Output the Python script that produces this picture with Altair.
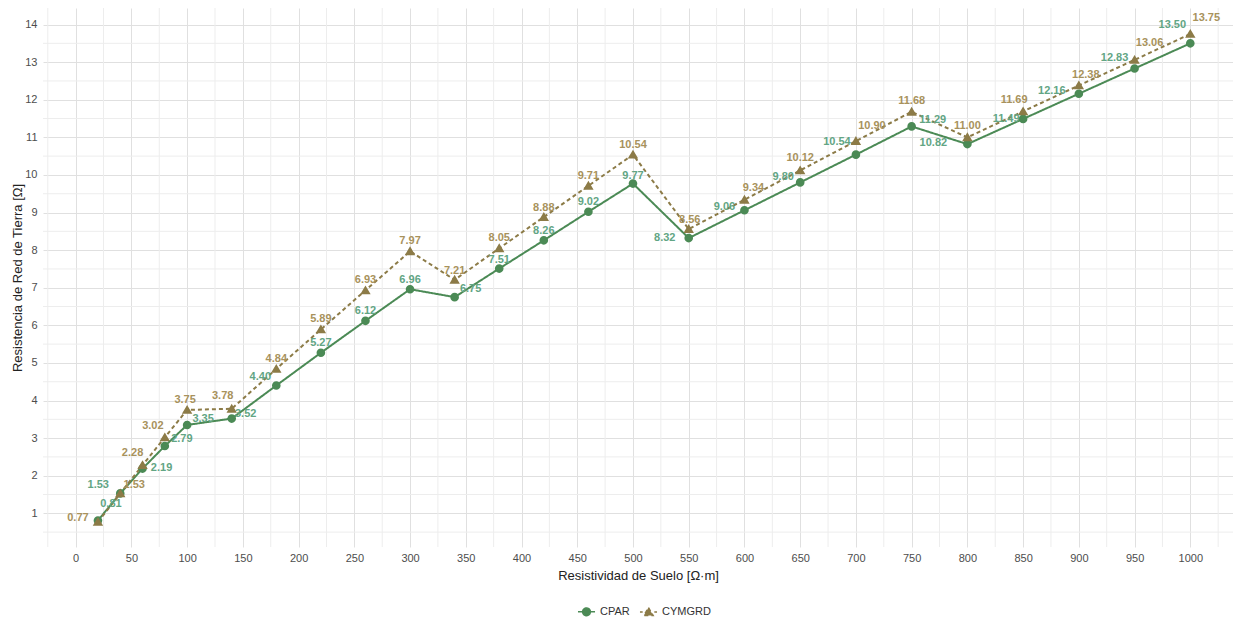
import altair as alt
import pandas as pd

# Data
resistividad = [20, 40, 60, 80, 100, 140, 180, 220, 260, 300, 340, 380, 420, 460,
                500, 550, 600, 650, 700, 750, 800, 850, 900, 950, 1000]
cpar = [0.81, 1.53, 2.19, 2.79, 3.35, 3.52, 4.40, 5.27, 6.12, 6.96, 6.75, 7.51, 8.26,
        9.02, 9.77, 8.32, 9.06, 9.80, 10.54, 11.29, 10.82, 11.49, 12.16, 12.83, 13.50]
cymgrd = [0.77, 1.53, 2.28, 3.02, 3.75, 3.78, 4.84, 5.89, 6.93, 7.97, 7.21, 8.05, 8.88,
          9.71, 10.54, 8.56, 9.34, 10.12, 10.90, 11.68, 11.00, 11.69, 12.38, 13.06, 13.75]

# label nudges (pixels), mimicking repelled label placement
cpar_dx = [13, -22, 19, 17, 16, 14, -16, 0, 0, 0, 16, 0, 0, 0, 0, -24, -20, -17, -19, 21, -34, -17, -27, -20, -18]
cpar_dy = [-16, -8, -1, -7, -6, -5, -8, -10, -10, -9, -8, -9, -9, -10, -8, 0, -3, -5, -13, -6, -1, 0, -3, -11, -18]
cym_dx = [-20, 14, -10, -12, -2, -9, 0, 0, 0, 0, 0, 0, 0, 0, 0, 1, 9, 0, 16, 0, 0, -9, 7, 15, 16]
cym_dy = [-4, -8, -12, -11, -10, -13, -10, -10, -10, -10, -9, -10, -9, -10, -10, -9, -12, -12, -15, -11, -11, -11, -10, -17, -16]

series_names = ["CPAR", "CYMGRD"]
line_colors = ["#4b8a55", "#8c7b47"]
label_colors = ["#62a584", "#a8925c"]

x_ticks = list(range(0, 1001, 50))
y_ticks = list(range(1, 15))
x_minor = list(range(-25, 1026, 50))
y_minor = [v + 0.5 for v in range(0, 14)]

rows = []
for i, x in enumerate(resistividad):
    rows.append({"x": x, "y": cpar[i], "serie": "CPAR", "dx": cpar_dx[i], "dy": cpar_dy[i]})
for i, x in enumerate(resistividad):
    rows.append({"x": x, "y": cymgrd[i], "serie": "CYMGRD", "dx": cym_dx[i], "dy": cym_dy[i]})
df = pd.DataFrame(rows)

FONT = "Liberation Sans"
W, H = 1190, 539
XD = [-29.3, 1038.3]
YD = [0.104, 14.44]
px_x = W / (XD[1] - XD[0])
px_y = H / (YD[1] - YD[0])

xscale = alt.Scale(domain=XD, nice=False, zero=False)
yscale = alt.Scale(domain=YD, nice=False, zero=False)

# symbol paths: filled marker plus a horizontal stroke that only shows in the legend
circle_path = "M-2.2,0H2.2M1,0A1,1,0,1,1,-1,0A1,1,0,1,1,1,0Z"
triangle_path = "M-2.2,0H-1.5M1.5,0H2.2M0,-1.15L1.2,0.9L-1.2,0.9Z"

color_scale = alt.Scale(domain=series_names, range=line_colors)
label_scale = alt.Scale(domain=series_names, range=label_colors)
shape_scale = alt.Scale(domain=series_names, range=[circle_path, triangle_path])
dash_scale = alt.Scale(domain=series_names, range=[[1, 0], [4, 3]])

x_axis = alt.Axis(
    values=x_ticks, format="d",
    title="Resistividad de Suelo [Ω·m]",
    grid=True, gridColor="#e0e0e0", gridWidth=1,
    domain=False, ticks=False, labelOverlap=False,
    labelPadding=5, labelFontSize=11, labelColor="#4d4d4d", labelFont=FONT,
    titleFontSize=13, titleFont=FONT, titleFontWeight="normal", titleColor="#222222",
    titlePadding=6,
)
y_axis = alt.Axis(
    values=y_ticks, format="d",
    title="Resistencia de Red de Tierra [Ω]",
    grid=True, gridColor="#e0e0e0", gridWidth=1,
    domain=False, ticks=False, labelOverlap=False,
    labelPadding=6, labelFontSize=11, labelColor="#4d4d4d", labelFont=FONT,
    titleFontSize=13, titleFont=FONT, titleFontWeight="normal", titleColor="#222222",
    titlePadding=0,
)

minor_x = alt.Chart(pd.DataFrame({"v": x_minor})).mark_rule(
    color="#ededed", strokeWidth=1).encode(x=alt.X("v:Q", scale=xscale, axis=x_axis))
minor_y = alt.Chart(pd.DataFrame({"v": y_minor})).mark_rule(
    color="#ededed", strokeWidth=1).encode(y=alt.Y("v:Q", scale=yscale, axis=y_axis))

base = alt.Chart(df)

legend = alt.Legend(title=None, orient="none", direction="horizontal",
                    legendX=538, legendY=598,
                    labelFont=FONT, labelFontSize=11, labelColor="#333333",
                    labelOffset=8, symbolSize=60, symbolStrokeWidth=1.5,
                    columnPadding=6)

lines = base.mark_line(strokeWidth=2).encode(
    x=alt.X("x:Q", scale=xscale, axis=x_axis),
    y=alt.Y("y:Q", scale=yscale, axis=y_axis),
    color=alt.Color("serie:N", scale=color_scale, legend=legend),
    strokeDash=alt.StrokeDash("serie:N", scale=dash_scale, legend=None),
    detail="serie:N",
)

points = base.mark_point(filled=True, size=75, opacity=1).encode(
    x=alt.X("x:Q", scale=xscale),
    y=alt.Y("y:Q", scale=yscale),
    color=alt.Color("serie:N", scale=color_scale, legend=legend),
    shape=alt.Shape("serie:N", scale=shape_scale, legend=legend),
)

labels = base.transform_calculate(
    lx=f"datum.x + datum.dx / {px_x}",
    ly=f"datum.y - datum.dy / {px_y}",
).mark_text(font=FONT, fontSize=11, fontWeight="bold",
            align="center", baseline="middle").encode(
    x=alt.X("lx:Q", scale=xscale),
    y=alt.Y("ly:Q", scale=yscale),
    text=alt.Text("y:Q", format=".2f"),
    fill=alt.Fill("serie:N", scale=label_scale, legend=None),
)

chart = alt.layer(minor_x, minor_y, lines, points, labels).properties(
    width=W, height=H,
    autosize=alt.AutoSizeParams(type="none"),
    padding={"left": 35, "top": 0, "right": 0, "bottom": 76},
    background="white",
).configure_view(stroke=None)

chart.save("out.html", embed_options={"renderer": "svg", "actions": False})
